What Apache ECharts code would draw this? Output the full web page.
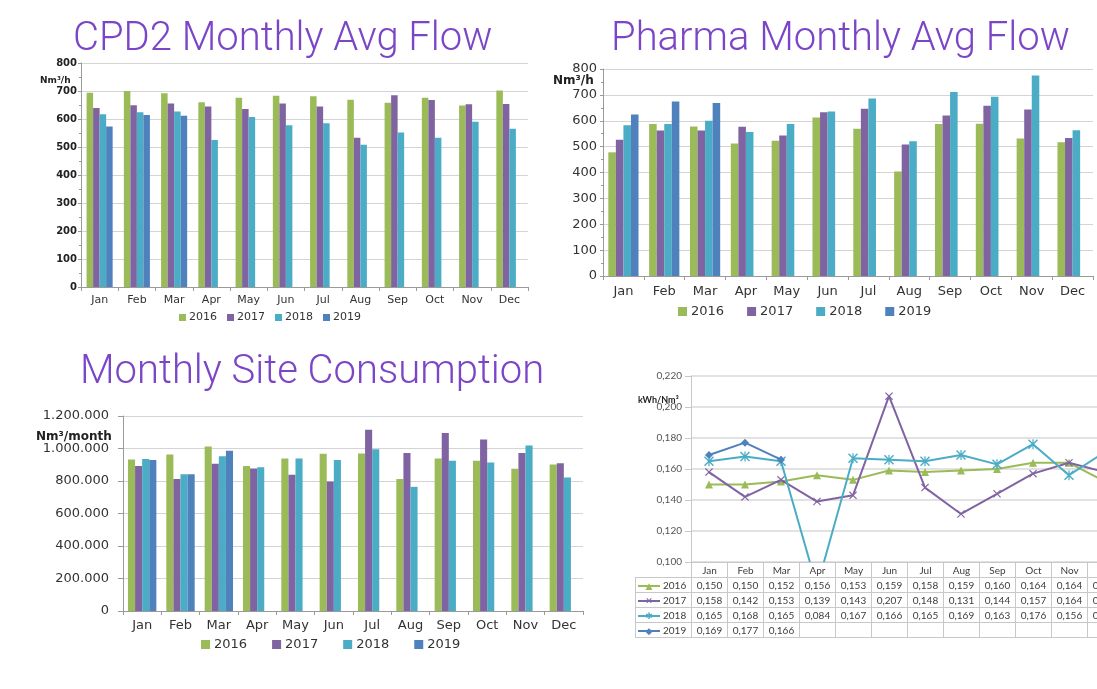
<!DOCTYPE html>
<html>
<head>
<meta charset="UTF-8">
<title>Monthly flow and consumption</title>
<script src="https://cdn.jsdelivr.net/npm/echarts@6/dist/echarts.min.js"></script>
<style>
html,body{margin:0;padding:0;background:#fff;overflow:hidden;}
#page{position:relative;width:1097px;height:689px;overflow:hidden;}
#chart{position:absolute;left:0;top:0;width:1097px;height:689px;}
#kpiTable{position:absolute;left:635px;top:562px;width:488px;border-collapse:collapse;font-family:Lato,sans-serif;font-size:10px;color:#3c3c3c;table-layout:fixed;}
#kpiTable td{border:1px solid #c8c8c8;height:14px;padding:0;text-align:center;white-space:nowrap;overflow:hidden;}
#kpiTable td.blank{border-top:none;border-left:none;}
#kpiTable td.lab{text-align:left;padding-left:2px;}
.key{display:inline-block;position:relative;width:22px;height:10px;vertical-align:middle;margin-right:3px;}
.key i{position:absolute;left:0;right:0;top:4px;height:2px;background:currentColor;}
.key b{position:absolute;left:0;right:0;top:-1px;text-align:center;font-size:9px;line-height:12px;font-family:"DejaVu Sans";}
</style>
</head>
<body>
<div id="page">
	<div id="chart"></div>
	<table id="kpiTable"></table>
</div>
<script type="text/javascript">
// categories / series names
const months = ['Jan','Feb','Mar','Apr','May','Jun','Jul','Aug','Sep','Oct','Nov','Dec'];
const years = ['2016','2017','2018','2019'];
const colors = ['#9BBB59','#8064A2','#4BACC6','#4F81BD'];

// CPD2 monthly avg flow, Nm3/h
const cpd2016 = [694,700,692,660,676,683,681,669,658,676,648,702];
const cpd2017 = [639,649,655,645,636,655,645,533,685,668,653,654];
const cpd2018 = [617,624,627,525,607,578,585,508,552,533,590,565];
const cpd2019 = [573,614,612,null,null,null,null,null,null,null,null,null];

// Pharma monthly avg flow, Nm3/h
const pha2016 = [478,587,578,512,523,613,569,404,587,588,531,517];
const pha2017 = [527,562,562,577,543,633,646,508,620,658,643,533];
const pha2018 = [583,587,600,557,587,636,686,521,711,693,775,563];
const pha2019 = [624,674,669,null,null,null,null,null,null,null,null,null];

// monthly site consumption, Nm3/month
const site2016 = [932000,963000,1012000,893000,938000,967000,969000,813000,938000,924000,875000,901000];
const site2017 = [893000,813000,906000,877000,838000,797000,1115000,973000,1096000,1055000,973000,909000];
const site2018 = [936000,842000,953000,885000,938000,930000,996000,764000,924000,914000,1018000,821000];
const site2019 = [930000,842000,986000,null,null,null,null,null,null,null,null,null];

// specific energy, kWh/Nm3
const eff2016 = [0.150,0.150,0.152,0.156,0.153,0.159,0.158,0.159,0.160,0.164,0.164,0.152];
const eff2017 = [0.158,0.142,0.153,0.139,0.143,0.207,0.148,0.131,0.144,0.157,0.164,0.158];
const eff2018 = [0.165,0.168,0.165,0.084,0.167,0.166,0.165,0.169,0.163,0.176,0.156,0.171];
const eff2019 = [0.169,0.177,0.166,null,null,null,null,null,null,null,null,null];

const purple = '#7B45C8';
const symX = 'path://M0,1L1,0L5,4L9,0L10,1L6,5L10,9L9,10L5,6L1,10L0,9L4,5Z';
const symStar = 'path://M0,1L1,0L5,4L9,0L10,1L6,5L10,9L9,10L5,6L1,10L0,9L4,5Z M4.4,0L5.6,0L5.6,10L4.4,10Z';
const lineSymbols = ['triangle', symX, symStar, 'diamond'];
const lineSizes = [8, 8, 10, 8];

function dotted(v) {
	return String(v).replace(/\B(?=(\d{3})+(?!\d))/g, '.');
}
function comma(v) {
	return v.toFixed(3).replace('.', ',');
}

function barSeries(idx, lists) {
	return years.map(function(y, i) {
		return {
			name: y, type: 'bar', xAxisIndex: idx, yAxisIndex: idx,
			data: lists[i], barGap: '0%', barCategoryGap: idx === 0 ? '30%' : '26%',
			itemStyle: {color: colors[i]}
		};
	});
}

const gridLine = {show: true, lineStyle: {color: '#d4d4d4'}};
const barFont = 'DejaVu Sans';

function catAxis(idx, size, margin) {
	return {
		type: 'category', gridIndex: idx, data: months,
		axisLine: {lineStyle: {color: '#9a9a9a'}},
		axisTick: {show: true, length: 4, lineStyle: {color: '#9a9a9a'}},
		axisLabel: {fontSize: size, fontFamily: barFont, color: '#333', margin: margin, interval: 0}
	};
}

const chart = echarts.init(document.getElementById('chart'));
const option = {
	animation: false,
	backgroundColor: '#fff',
	title: [
		{text: 'CPD2 Monthly Avg Flow', left: 68, top: 15, textStyle: {color: purple, fontSize: 40, fontWeight: 300, fontFamily: 'Roboto'}},
		{text: 'Pharma Monthly Avg Flow', left: 606, top: 15, textStyle: {color: purple, fontSize: 40, fontWeight: 300, fontFamily: 'Roboto'}},
		{text: 'Monthly Site Consumption', left: 75, top: 348, textStyle: {color: purple, fontSize: 40, fontWeight: 300, fontFamily: 'Roboto'}},
		{text: 'Nm³/h', left: 35, top: 71, textStyle: {color: '#222', fontSize: 9, fontWeight: 'bold', fontFamily: barFont}},
		{text: 'Nm³/h', left: 548, top: 70, textStyle: {color: '#222', fontSize: 12, fontWeight: 'bold', fontFamily: barFont}},
		{text: 'Nm³/month', left: 31, top: 426, textStyle: {color: '#222', fontSize: 12, fontWeight: 'bold', fontFamily: barFont}},
		{text: 'kWh/Nm³', left: 633, top: 391, textStyle: {color: '#222', fontSize: 9, fontWeight: 'bold', fontFamily: 'Lato'}}
	],
	legend: [
		{data: years, icon: 'rect', left: 174, top: 307, itemWidth: 7, itemHeight: 7, itemGap: 10,
			textStyle: {fontSize: 11, fontFamily: barFont, color: '#333', padding: [0, 0, 0, -2]}},
		{data: years, icon: 'rect', left: 673, top: 300, itemWidth: 9, itemHeight: 9, itemGap: 23,
			textStyle: {fontSize: 13, fontFamily: barFont, color: '#333', padding: [0, 0, 0, -1]}},
		{data: years, icon: 'rect', left: 196, top: 633, itemWidth: 9, itemHeight: 9, itemGap: 25,
			textStyle: {fontSize: 13, fontFamily: barFont, color: '#333', padding: [0, 0, 0, -1]}}
	],
	grid: [
		{left: 81, top: 63, width: 447, height: 224, outerBoundsMode: 'none'},
		{left: 603, top: 69, width: 490, height: 207, outerBoundsMode: 'none'},
		{left: 123, top: 416, width: 460, height: 195, outerBoundsMode: 'none'},
		{left: 691, top: 376, width: 432, height: 186, outerBoundsMode: 'none'}
	],
	xAxis: [
		catAxis(0, 11, 8),
		catAxis(1, 13, 9),
		catAxis(2, 13, 8),
		{type: 'category', gridIndex: 3, data: months,
			axisLine: {lineStyle: {color: '#c8c8c8'}}, axisTick: {show: false}, axisLabel: {show: false}}
	],
	yAxis: [
		{type: 'value', gridIndex: 0, min: 0, max: 800, interval: 100,
			axisLine: {show: true, lineStyle: {color: '#9a9a9a'}},
			axisTick: {show: true, length: 3}, minorTick: {show: true, splitNumber: 2, length: 2},
			splitLine: gridLine,
			axisLabel: {fontSize: 10, fontWeight: 'bold', fontFamily: barFont, color: '#222', margin: 4}},
		{type: 'value', gridIndex: 1, min: 0, max: 800, interval: 100,
			axisLine: {show: true, lineStyle: {color: '#9a9a9a'}},
			axisTick: {show: true, length: 3}, minorTick: {show: true, splitNumber: 2, length: 2},
			splitLine: gridLine,
			axisLabel: {fontSize: 13, fontFamily: barFont, color: '#333', margin: 6}},
		{type: 'value', gridIndex: 2, min: 0, max: 1200000, interval: 200000,
			axisLine: {show: true, lineStyle: {color: '#9a9a9a'}},
			axisTick: {show: true, length: 5},
			splitLine: gridLine,
			axisLabel: {fontSize: 13, fontFamily: barFont, color: '#333', margin: 14, formatter: dotted}},
		{type: 'value', gridIndex: 3, min: 0.1, max: 0.22, interval: 0.02,
			axisLine: {show: true, lineStyle: {color: '#c8c8c8'}},
			axisTick: {show: true, length: 6, lineStyle: {color: '#c8c8c8'}},
			splitLine: {show: true, lineStyle: {color: '#d9d9d9', width: 1.5}},
			axisLabel: {fontSize: 10, fontFamily: 'Lato', color: '#555', margin: 9, formatter: comma}}
	],
	series: [].concat(
		barSeries(0, [cpd2016, cpd2017, cpd2018, cpd2019]),
		barSeries(1, [pha2016, pha2017, pha2018, pha2019]),
		barSeries(2, [site2016, site2017, site2018, site2019]),
		[eff2016, eff2017, eff2018, eff2019].map(function(d, i) {
			return {
				name: years[i], type: 'line', xAxisIndex: 3, yAxisIndex: 3, data: d,
				symbol: lineSymbols[i], symbolSize: lineSizes[i], showAllSymbol: true,
				clip: true, z: 3 + i,
				lineStyle: {color: colors[i], width: 2},
				itemStyle: {color: colors[i]}
			};
		})
	)
};
chart.setOption(option);

// data table under the line chart
const markChars = ['▲','✕','✱','◆'];
const effRows = [eff2016, eff2017, eff2018, eff2019];
let html = '<colgroup><col style="width:56px">';
months.forEach(function() { html += '<col style="width:36px">'; });
html += '</colgroup><tr><td class="blank"></td>';
months.forEach(function(m) { html += '<td>' + m + '</td>'; });
html += '</tr>';
effRows.forEach(function(row, i) {
	html += '<tr><td class="lab"><span class="key" style="color:' + colors[i] + '"><i></i><b>' + markChars[i] + '</b></span>' + years[i] + '</td>';
	row.forEach(function(v) { html += '<td>' + (v == null ? '' : comma(v)) + '</td>'; });
	html += '</tr>';
});
document.getElementById('kpiTable').innerHTML = html;

window.addEventListener('resize', function() { chart.resize(); });
</script>
</body>
</html>
